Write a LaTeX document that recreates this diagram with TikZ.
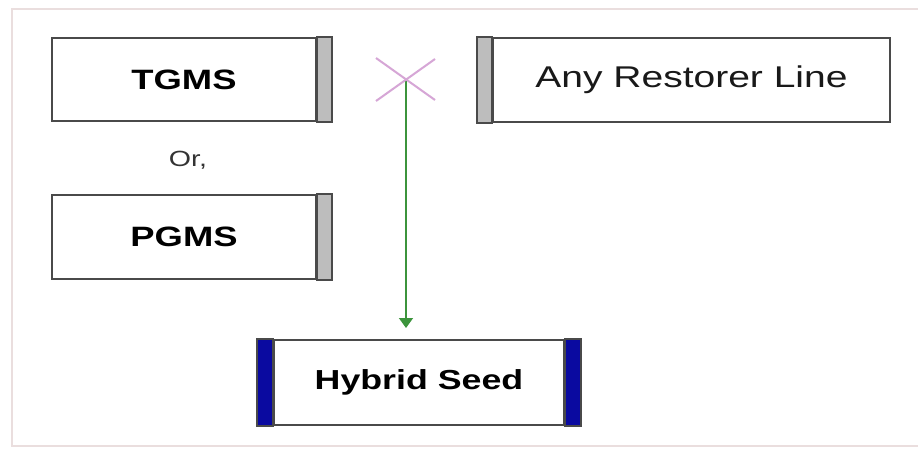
\documentclass[tikz,border=0pt]{standalone}
\usepackage{fontspec}
\setmainfont{Liberation Sans}
\newfontfamily\boxfont[FakeStretch=1.3]{Liberation Sans}
\usetikzlibrary{arrows.meta}
\definecolor{frameC}{HTML}{EADEDE}
\definecolor{edgeC}{HTML}{4A4A4A}
\definecolor{barC}{HTML}{BDBDBD}
\definecolor{blueC}{HTML}{0A0AA0}
\definecolor{crossC}{HTML}{D6A6D6}
\definecolor{greenC}{HTML}{3C943C}
\tikzset{
  box/.style={draw=edgeC, line width=2pt, fill=white, inner sep=0pt,
    font=\boxfont\fontsize{30}{32}\selectfont, text=black!90},
  grayBar/.style={draw=edgeC, line width=2pt, fill=barC},
  blueBar/.style={draw=edgeC, line width=1.5pt, fill=blueC},
  crossLine/.style={draw=crossC, line width=2pt},
  flow/.style={draw=greenC, line width=1.6pt, -{Triangle[width=14pt,length=10pt]}},
}
\begin{document}
\begin{tikzpicture}[x=1pt,y=-1pt]
\useasboundingbox (0,0) rectangle (918,451);
\fill[white] (0,0) rectangle (918,451);
% frame
\draw[frameC, line width=2pt] (930,9) -- (12,9) -- (12,446) -- (930,446);
% boxes
\node[box, minimum width=264pt, minimum height=83pt, font=\boxfont\bfseries\fontsize{28}{32}\selectfont, text=black] (tgms) at (184,79.5) {TGMS};
\draw[grayBar] (tgms.north east) rectangle ([xshift=15pt]tgms.south east);
\node[box, minimum width=264pt, minimum height=84pt, font=\boxfont\bfseries\fontsize{28}{32}\selectfont, text=black] (pgms) at (184,236.5) {PGMS};
\draw[grayBar] (pgms.north east) rectangle ([xshift=15pt]pgms.south east);
\node[font=\boxfont\fontsize{22}{26}\selectfont, text=black!80] (or) at (188,160) {Or,};
\node[box, minimum width=397pt, minimum height=84pt] (rest) at (691.5,80) {Any Restorer Line};
\draw[grayBar] (rest.north west) rectangle ([xshift=-15pt]rest.south west);
\node[box, minimum width=290pt, minimum height=85pt, font=\boxfont\bfseries\fontsize{27.5}{32}\selectfont, text=black] (hyb) at (419,382.5) {Hybrid Seed};
\draw[blueBar] (hyb.north west) rectangle ([xshift=-16pt]hyb.south west);
\draw[blueBar] (hyb.north east) rectangle ([xshift=16pt]hyb.south east);
% cross
\coordinate (x) at (406,79);
\draw[flow, shorten >=11pt] (x) -- (x |- hyb.north);
\draw[crossLine] ([shift={(-30,-21)}]x) -- ([shift={(29,21)}]x);
\draw[crossLine] ([shift={(-30,22)}]x) -- ([shift={(29,-20)}]x);
\end{tikzpicture}
\end{document}
